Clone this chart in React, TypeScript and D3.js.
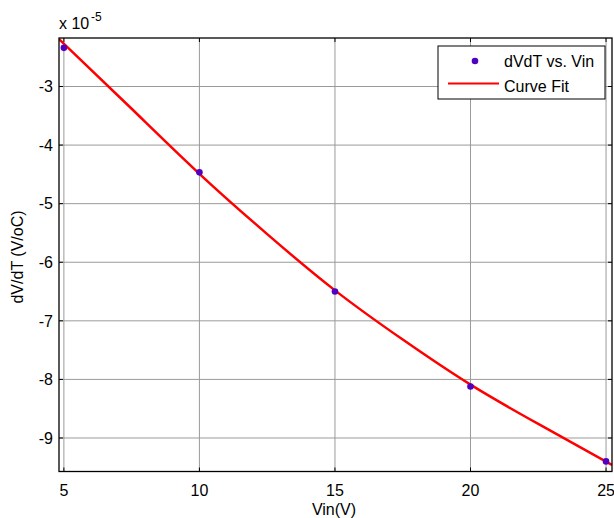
import React from "react";
import * as d3 from "d3";

const dataX = [5, 10, 15, 20, 25];
const dataY = [-2.34, -4.465, -6.5, -8.12, -9.4]; // x 1e-5

const fitX = [4.82, 7.5, 10, 12.5, 15, 17.5, 20, 22.5, 25.22];
const fitY = [-2.19, -3.38, -4.49, -5.52, -6.48, -7.32, -8.09, -8.76, -9.46];

const xTicks = [5, 10, 15, 20, 25];
const yTicks = [-3, -4, -5, -6, -7, -8, -9];

const W = 614, H = 518;
const M = { left: 59, right: 612, top: 38, bottom: 471.5 };
const FONT = "Liberation Sans, Arial, sans-serif";
const FS = 16;

export default function App() {
  const x = d3.scaleLinear().domain([4.82, 25.22]).range([M.left, M.right]);
  const y = d3.scaleLinear().domain([-9.572, -2.172]).range([M.bottom, M.top]);
  const line = d3
    .line<number>()
    .x((_, i) => x(fitX[i]))
    .y((d) => y(d))
    .curve(d3.curveNatural);
  const tl = 4;
  return (
    <svg width={W} height={H} style={{ position: "absolute", left: 0, top: 0, background: "#fff" }}>
      <rect x={0} y={0} width={W} height={H} fill="#fff" />
      <defs>
        <clipPath id="plotclip">
          <rect x={M.left} y={M.top} width={M.right - M.left} height={M.bottom - M.top} />
        </clipPath>
      </defs>
      {xTicks.map((t) => (
        <line key={"gx" + t} x1={x(t)} x2={x(t)} y1={M.top} y2={M.bottom} stroke="#9a9a9a" strokeWidth={1} />
      ))}
      {yTicks.map((t) => (
        <line key={"gy" + t} x1={M.left} x2={M.right} y1={y(t)} y2={y(t)} stroke="#9a9a9a" strokeWidth={1} />
      ))}
      {xTicks.map((t) => (
        <g key={"tx" + t}>
          <line x1={x(t)} x2={x(t)} y1={M.bottom} y2={M.bottom - tl} stroke="#000" />
          <line x1={x(t)} x2={x(t)} y1={M.top} y2={M.top + tl} stroke="#000" />
          <text x={x(t)} y={496} textAnchor="middle" fontFamily={FONT} fontSize={FS}>
            {t}
          </text>
        </g>
      ))}
      {yTicks.map((t) => (
        <g key={"ty" + t}>
          <line x1={M.left} x2={M.left + tl} y1={y(t)} y2={y(t)} stroke="#000" />
          <line x1={M.right} x2={M.right - tl} y1={y(t)} y2={y(t)} stroke="#000" />
          <text x={53} y={y(t) + 5.7} textAnchor="end" fontFamily={FONT} fontSize={FS}>
            {t}
          </text>
        </g>
      ))}
      <g clipPath="url(#plotclip)">
        <path d={line(fitY) || ""} fill="none" stroke="#ff0000" strokeWidth={2.5} />
      </g>
      {dataX.map((d, i) => (
        <circle key={"p" + i} cx={x(d)} cy={y(dataY[i])} r={3.3} fill="#5000c0" />
      ))}
      <rect x={M.left} y={M.top} width={M.right - M.left} height={M.bottom - M.top} fill="none" stroke="#000" strokeWidth={1.3} />
      <text x={59} y={29} fontFamily={FONT} fontSize={FS}>
        x 10
      </text>
      <text x={91} y={21} fontFamily={FONT} fontSize={12}>
        -5
      </text>
      <rect x={438} y={46} width={167} height={53} fill="#fff" stroke="#000" strokeWidth={1} />
      <circle cx={475} cy={61} r={3.3} fill="#5000c0" />
      <text x={504} y={67} fontFamily={FONT} fontSize={FS}>
        dVdT vs. Vin
      </text>
      <line x1={448} x2={499} y1={83.5} y2={83.5} stroke="#ff0000" strokeWidth={2} />
      <text x={504} y={92} fontFamily={FONT} fontSize={FS}>
        Curve Fit
      </text>
      <text x={334} y={515} textAnchor="middle" fontFamily={FONT} fontSize={FS}>
        Vin(V)
      </text>
      <text
        transform="translate(19,257) rotate(-90)"
        textAnchor="middle"
        dominantBaseline="middle"
        fontFamily={FONT}
        fontSize={FS}
      >
        dV/dT (V/oC)
      </text>
    </svg>
  );
}
